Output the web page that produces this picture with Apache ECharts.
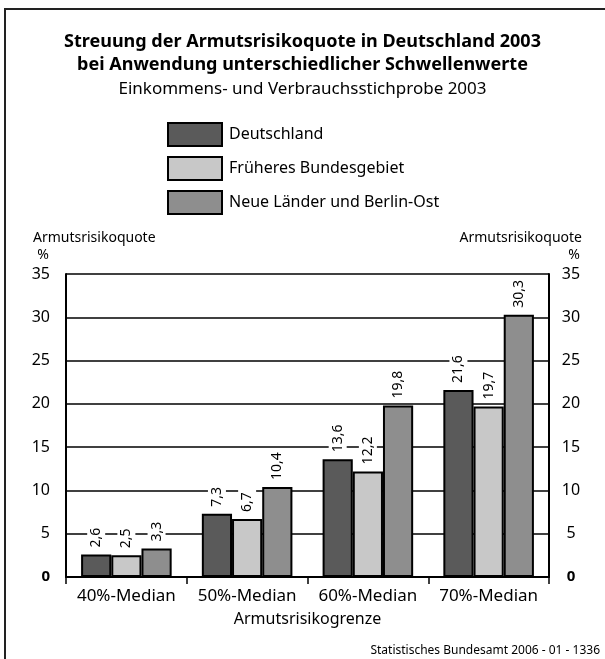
<!DOCTYPE html>
<html>
<head>
<meta charset="utf-8">
<script src="https://cdn.jsdelivr.net/npm/echarts@6/dist/echarts.min.js"></script>
<style>
html,body{margin:0;padding:0;background:#fff;}
#chart{width:605px;height:659px;}
</style>
</head>
<body>
<div id="chart"></div>
<script>
const categories = ['40%-Median', '50%-Median', '60%-Median', '70%-Median'];
const seriesNames = ['Deutschland', 'Früheres Bundesgebiet', 'Neue Länder und Berlin-Ost'];
const deutschland = [2.6, 7.3, 13.6, 21.6];
const frueheres = [2.5, 6.7, 12.2, 19.7];
const neueLaender = [3.3, 10.4, 19.8, 30.3];
const colors = ['#5a5a5a', '#c8c8c8', '#8e8e8e'];
const titleLines = ['Streuung der Armutsrisikoquote in Deutschland 2003', 'bei Anwendung unterschiedlicher Schwellenwerte'];
const subtitle = 'Einkommens- und Verbrauchsstichprobe 2003';
const yName = 'Armutsrisikoquote';
const yUnit = '%';
const xName = 'Armutsrisikogrenze';
const source = 'Statistisches Bundesamt 2006 - 01 - 1336';

const FONT = '"Noto Sans", "Open Sans", sans-serif';
const chart = echarts.init(document.getElementById('chart'), null, {renderer: 'canvas'});

const fmt = v => String(v).replace('.', ',');

function makeSeries(name, data, color) {
  return {
    name: name,
    type: 'bar',
    data: data,
    barGap: '0%',
    barCategoryGap: '25%',
    itemStyle: {color: color, borderColor: '#000', borderWidth: 2},
    label: {
      show: true,
      position: 'top',
      rotate: 90,
      align: 'left',
      verticalAlign: 'middle',
      distance: 4,
      fontFamily: FONT,
      fontSize: 14,
      color: '#000',
      backgroundColor: '#fff',
      padding: [2, 3, 2, 3],
      formatter: p => fmt(p.value)
    }
  };
}

const yAxisCommon = {
  type: 'value',
  min: 0,
  max: 35,
  interval: 5,
  axisLine: {show: true, lineStyle: {color: '#000', width: 2}},
  axisTick: {show: false},
  axisLabel: {
    fontFamily: FONT,
    fontSize: 16,
    color: '#000',
    formatter: v => v === 0 ? '{b|0}' : String(v),
    rich: {b: {fontWeight: 'bold', fontFamily: FONT, fontSize: 15, color: '#000'}}
  }
};

chart.setOption({
  animation: false,
  backgroundColor: '#fff',
  textStyle: {fontFamily: FONT},
  title: [
    {
      text: titleLines.join('\n'),
      left: 'center',
      top: 30,
      padding: 0,
      textStyle: {fontFamily: FONT, fontSize: 18, fontWeight: 'bold', color: '#000', lineHeight: 23, align: 'center'}
    },
    {
      text: subtitle,
      left: 'center',
      top: 81,
      padding: 0,
      textStyle: {fontFamily: FONT, fontSize: 17, fontWeight: 'normal', color: '#000'}
    }
  ],
  legend: {
    orient: 'vertical',
    left: 167,
    top: 122,
    padding: 0,
    itemWidth: 54,
    itemHeight: 23,
    itemGap: 9,
    icon: 'rect',
    data: seriesNames,
    selectedMode: false,
    textStyle: {fontFamily: FONT, fontSize: 16, color: '#000', padding: [0, 0, 0, 2]}
  },
  grid: {left: 66, right: 56, top: 274, bottom: 82, containLabel: false},
  xAxis: {
    type: 'category',
    data: categories,
    name: xName,
    nameLocation: 'middle',
    nameGap: 34,
    nameTextStyle: {fontFamily: FONT, fontSize: 16, color: '#000'},
    axisLine: {lineStyle: {color: '#000', width: 2}},
    axisTick: {show: true, length: 7, lineStyle: {color: '#000', width: 1.5}},
    axisLabel: {fontFamily: FONT, fontSize: 17, color: '#000', margin: 11, interval: 0}
  },
  yAxis: [
    Object.assign({}, yAxisCommon, {
      position: 'left',
      splitLine: {show: true, lineStyle: {color: '#000', width: 1.5}},
      axisLabel: Object.assign({}, yAxisCommon.axisLabel, {margin: 16, align: 'right'})
    }),
    Object.assign({}, yAxisCommon, {
      position: 'right',
      splitLine: {show: false},
      axisLabel: Object.assign({}, yAxisCommon.axisLabel, {margin: 22, align: 'center'})
    })
  ],
  series: [
    makeSeries(seriesNames[0], deutschland, colors[0]),
    makeSeries(seriesNames[1], frueheres, colors[1]),
    makeSeries(seriesNames[2], neueLaender, colors[2])
  ],
  graphic: [
    {type: 'rect', shape: {x: 5, y: 9, width: 700, height: 700}, style: {fill: 'none', stroke: '#222', lineWidth: 2}, silent: true},
    {type: 'text', x: 33, y: 238, style: {text: yName, font: '14px ' + FONT, fill: '#000', align: 'left', verticalAlign: 'middle'}},
    {type: 'text', x: 43, y: 255, style: {text: yUnit, font: '14px ' + FONT, fill: '#000', align: 'center', verticalAlign: 'middle'}},
    {type: 'text', x: 582, y: 238, style: {text: yName, font: '14px ' + FONT, fill: '#000', align: 'right', verticalAlign: 'middle'}},
    {type: 'text', x: 574, y: 255, style: {text: yUnit, font: '14px ' + FONT, fill: '#000', align: 'center', verticalAlign: 'middle'}},
    {type: 'text', x: 600, y: 651, style: {text: source, font: '12px ' + FONT, fill: '#000', align: 'right', verticalAlign: 'middle'}}
  ]
});
</script>
</body>
</html>
